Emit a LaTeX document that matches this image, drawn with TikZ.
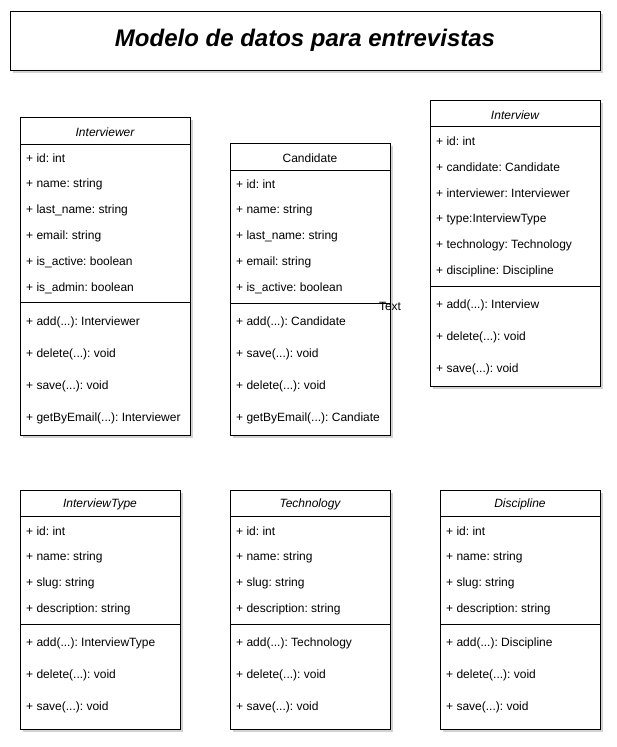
\documentclass[tikz,border=0pt]{standalone}
\usepackage{fontspec}
\setmainfont{Liberation Sans}
\frenchspacing
\usetikzlibrary{shadows}
\tikzset{
  umlbox/.style={draw=black, fill=white, line width=1pt, inner sep=0pt, outer sep=0pt, anchor=north west,
    drop shadow={shadow xshift=2.5pt, shadow yshift=-2.5pt, opacity=0.25, fill=black!70}},
  sepline/.style={draw=black, line width=1pt},
  attr/.style={anchor=west, font=\fontsize{12}{14}\selectfont, inner sep=0pt, yshift=-1pt},
  hdr/.style={font=\fontsize{12}{14}\selectfont, inner sep=0pt, yshift=-1pt},
  titlefont/.style={font=\fontsize{24}{28}\selectfont\bfseries\itshape, inner sep=0pt},
}
% #1 name, #2 x, #3 y, #4 w, #5 h, #6 header height, #7 separator offset
\newcommand\umlclass[7]{%
  \node[umlbox, minimum width=#4pt, minimum height=#5pt] (#1) at (#2,#3) {};
  \coordinate (#1-hl) at (#2,{#3+#6});
  \coordinate (#1-hr) at ({#2+#4},{#3+#6});
  \coordinate (#1-sl) at (#2,{#3+#7});
  \coordinate (#1-sr) at ({#2+#4},{#3+#7});
  \draw[sepline] (#1-hl) -- (#1-hr);
  \draw[sepline] (#1-sl) -- (#1-sr);
}
\begin{document}
\begin{tikzpicture}[x=1pt,y=-1pt]
\useasboundingbox (0,0) rectangle (617,747);
\fill[white] (0,0) rectangle (617,747);

% title
\node[umlbox, minimum width=590pt, minimum height=59pt] (titlebox) at (10,11) {};
\node[titlefont] (title) at (titlebox.center) {Modelo de datos para entrevistas};

% Interviewer
\umlclass{iv}{20}{117}{170}{318}{27}{185}
\node[hdr] (iv-h) at (105,131) {\itshape Interviewer};
\foreach \yy/\txt [count=\i] in {157/{+ id: int},183/{+ name: string},209/{+ last\_name: string},235/{+ email: string},261/{+ is\_active: boolean},287/{+ is\_admin: boolean},321/{+ add(...): Interviewer},353/{+ delete(...): void},385/{+ save(...): void},417/{+ getByEmail(...): Interviewer}}
  \node[attr] (iv-a\i) at (26,\yy) {\txt};

% Candidate
\umlclass{cd}{230}{143}{160}{292}{27}{160}
\node[hdr] (cd-h) at (310,157) {Candidate};
\foreach \yy/\txt [count=\i] in {183/{+ id: int},209/{+ name: string},235/{+ last\_name: string},261/{+ email: string},287/{+ is\_active: boolean},321/{+ add(...): Candidate},353/{+ save(...): void},385/{+ delete(...): void},417/{+ getByEmail(...): Candiate}}
  \node[attr] (cd-a\i) at (236,\yy) {\txt};
\node[hdr] (lbl) at (390,305) {Text};

% Interview
\umlclass{it}{430}{100}{170}{286}{26}{186}
\node[hdr] (it-h) at (515,114) {\itshape Interview};
\foreach \yy/\txt [count=\i] in {140/{+ id: int},166/{+ candidate: Candidate},192/{+ interviewer: Interviewer},218/{+ type:InterviewType},244/{+ technology: Technology},270/{+ discipline: Discipline},304/{+ add(...): Interview},336/{+ delete(...): void},368/{+ save(...): void}}
  \node[attr] (it-a\i) at (436,\yy) {\txt};

% InterviewType
\umlclass{ty}{20}{490}{160}{239}{26}{134}
\node[hdr] (ty-h) at (100,503) {\itshape InterviewType};
\foreach \yy/\txt [count=\i] in {530/{+ id: int},556/{+ name: string},582/{+ slug: string},608/{+ description: string},642/{+ add(...): InterviewType},674/{+ delete(...): void},706/{+ save(...): void}}
  \node[attr] (ty-a\i) at (26,\yy) {\txt};

% Technology
\umlclass{te}{230}{490}{160}{239}{26}{134}
\node[hdr] (te-h) at (310,503) {\itshape Technology};
\foreach \yy/\txt [count=\i] in {530/{+ id: int},556/{+ name: string},582/{+ slug: string},608/{+ description: string},642/{+ add(...): Technology},674/{+ delete(...): void},706/{+ save(...): void}}
  \node[attr] (te-a\i) at (236,\yy) {\txt};

% Discipline
\umlclass{di}{440}{490}{160}{239}{26}{134}
\node[hdr] (di-h) at (520,503) {\itshape Discipline};
\foreach \yy/\txt [count=\i] in {530/{+ id: int},556/{+ name: string},582/{+ slug: string},608/{+ description: string},642/{+ add(...): Discipline},674/{+ delete(...): void},706/{+ save(...): void}}
  \node[attr] (di-a\i) at (446,\yy) {\txt};
\end{tikzpicture}
\end{document}
